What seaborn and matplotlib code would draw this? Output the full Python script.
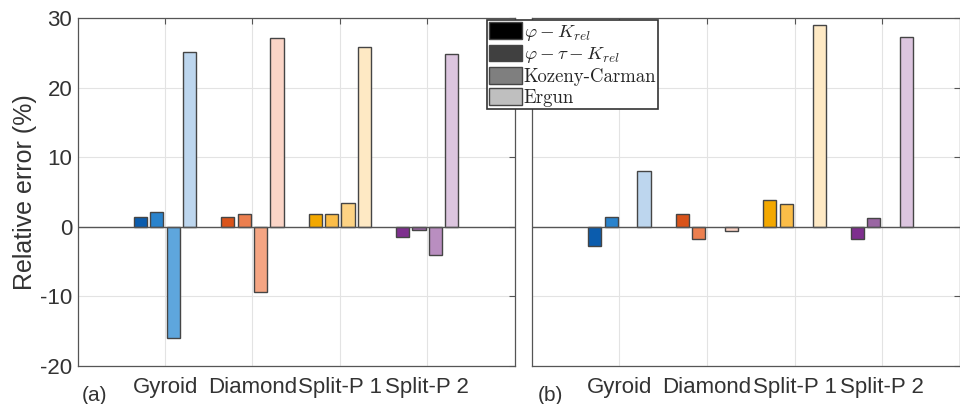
import numpy as np
import pandas as pd
import seaborn as sns
import matplotlib.pyplot as plt
from matplotlib.patches import Patch

# Data (relative error in %)
structures = ['Gyroid', 'Diamond', 'Split-P 1', 'Split-P 2']
models = ['phi_K', 'phi_tau_K', 'Kozeny-Carman', 'Ergun']

# panel (a)
a_phi_k = [1.4, 1.4, 1.8, -1.4]
a_phi_tau_k = [2.2, 1.8, 1.8, -0.4]
a_kozeny = [-15.9, -9.4, 3.5, -4.0]
a_ergun = [25.1, 27.2, 25.9, 24.8]

# panel (b) - no Kozeny-Carman bars
b_phi_k = [-2.7, 1.9, 3.9, -1.7]
b_phi_tau_k = [1.4, -1.7, 3.3, 1.3]
b_kozeny = [np.nan, np.nan, np.nan, np.nan]
b_ergun = [8.0, -0.6, 29.0, 27.3]

legend_labels = [r'$\varphi - K_{rel}$', r'$\varphi - \tau - K_{rel}$', 'Kozeny-Carman', 'Ergun']
legend_grays = ['#000000', '#404040', '#7f7f7f', '#bfbfbf']

# one colour per structure, getting lighter per model
bar_colors = [
    ['#0b5cad', '#2a83cc', '#5ea6dd', '#bdd6ee'],
    ['#d9531a', '#ec7f4f', '#f5a583', '#fbd5c7'],
    ['#f3a800', '#fbbd48', '#fdd384', '#fee9c4'],
    ['#7e2f8e', '#9a66a3', '#b98ec0', '#dcc5df'],
]


def make_df(phi_k, phi_tau_k, kozeny, ergun):
    rows = []
    for i, s in enumerate(structures):
        for m, vals in zip(models, [phi_k, phi_tau_k, kozeny, ergun]):
            rows.append({'structure': s, 'model': m, 'error': vals[i]})
    df = pd.DataFrame(rows)
    return df.dropna()


df_a = make_df(a_phi_k, a_phi_tau_k, a_kozeny, a_ergun)
df_b = make_df(b_phi_k, b_phi_tau_k, b_kozeny, b_ergun)

sns.set_theme(style='white')
plt.rcParams['font.family'] = ['Liberation Sans', 'DejaVu Sans']
plt.rcParams['mathtext.fontset'] = 'cm'
plt.rcParams['axes.unicode_minus'] = False

fig = plt.figure(figsize=(9.6, 4.04), dpi=100)
ax_a = fig.add_axes([0.081, 0.094, 0.455, 0.861])
ax_b = fig.add_axes([0.554, 0.094, 0.446, 0.861])

text_col = '#333333'

for ax, df, xmax in [(ax_a, df_a, 4.0), (ax_b, df_b, 3.89)]:
    sns.barplot(
        data=df, x='structure', y='error', hue='model',
        order=structures, hue_order=models,
        width=0.75, gap=0.2, errorbar=None,
        edgecolor='#454545', linewidth=1.0,
        legend=False, ax=ax, zorder=3
    )

    # recolour every bar by its structure and model slot
    for p in ax.patches:
        xc = p.get_x() + p.get_width() / 2
        ci = int(round(xc))
        hi = int(round((xc - ci + 0.28125) / 0.1875))
        p.set_facecolor(bar_colors[ci][hi])

    ax.axhline(0, color='#555555', lw=1.0, zorder=4)
    ax.set_xlim(-1, xmax)
    ax.set_ylim(-20, 30)
    ax.set_yticks([-20, -10, 0, 10, 20, 30])
    ax.grid(True, color='#e3e3e3', lw=0.8, zorder=0)
    ax.set_axisbelow(True)
    ax.set_xlabel('')
    ax.tick_params(direction='in', length=4, width=0.8, colors='#555555',
                   labelcolor=text_col, labelsize=16, top=True, right=True)
    ax.tick_params(axis='x', pad=8)
    ax.tick_params(axis='y', pad=4)
    for sp in ax.spines.values():
        sp.set_color('#555555')
        sp.set_linewidth(0.9)

ax_a.set_ylabel('Relative error (%)', fontsize=18, color=text_col, labelpad=2)
ax_b.set_ylabel('')
ax_b.set_yticklabels([])

# panel letters
fig.text(0.085, 0.008, '(a)', fontsize=15, color=text_col)
fig.text(0.560, 0.008, '(b)', fontsize=15, color=text_col)

# grey legend shared by both panels
handles = [Patch(facecolor=c, edgecolor='#454545', lw=1.0) for c in legend_grays]
fig.legend(
    handles, legend_labels,
    loc='upper left', bbox_to_anchor=(487 / 960, 1 - 20 / 404),
    prop={'family': 'cmr10', 'size': 13.5},
    frameon=True, fancybox=False, edgecolor='#333333', framealpha=1,
    handlelength=1.75, handleheight=1.0, handletextpad=0.1,
    labelspacing=0.1, borderpad=0.1, borderaxespad=0
).get_frame().set_linewidth(1.2)

plt.savefig('out.png', dpi=100)
